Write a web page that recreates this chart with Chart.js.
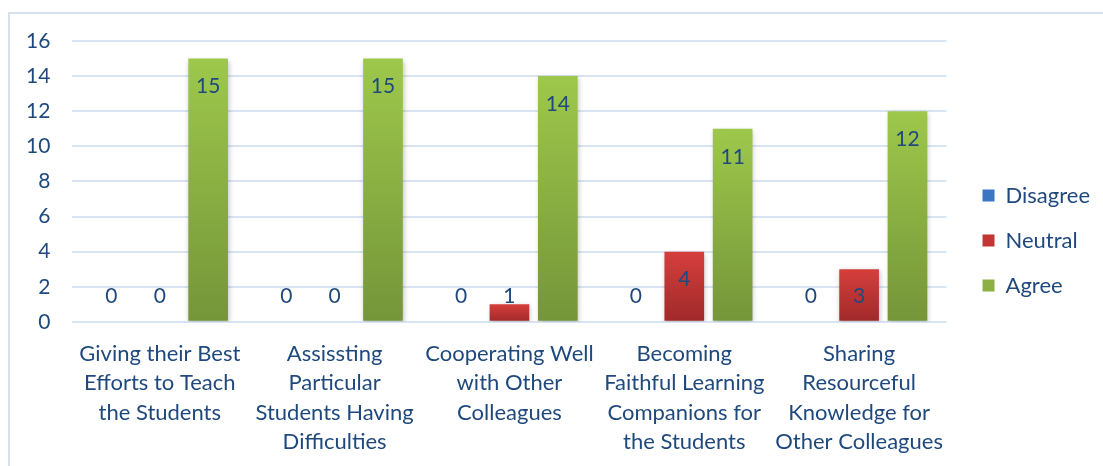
<!DOCTYPE html>
<html>
<head>
<meta charset="utf-8">
<script src="https://cdn.jsdelivr.net/npm/chart.js@4"></script>
<style>
  body { margin: 0; background: #fff; overflow: hidden; }
  #frame { position: absolute; left: 8px; top: 12px; width: 1200px; height: 600px; border-left: 2px solid #d6e1ef; border-top: 2px solid #d6e1ef; }
  #wrap { position: absolute; left: 0; top: 0; width: 1103px; height: 466px; }
</style>
</head>
<body>
<div id="frame"></div>
<div id="wrap"><canvas id="chart"></canvas></div>
<script>
// data
const categories = [
  ["Giving their Best", "Efforts to Teach", "the Students"],
  ["Assissting", "Particular", "Students Having", "Difficulties"],
  ["Cooperating Well", "with Other", "Colleagues"],
  ["Becoming", "Faithful Learning", "Companions for", "the Students"],
  ["Sharing", "Resourceful", "Knowledge for", "Other Colleagues"],
];
const disagree = [0, 0, 0, 0, 0];
const neutral = [0, 0, 1, 4, 3];
const agree = [15, 15, 14, 11, 12];
const yTicks = [0, 2, 4, 6, 8, 10, 12, 14, 16];

const textColor = "#1f497d";
const fontName = "Lato";

// gradient fill per bar, top colour -> bottom colour
function barFill(top, bottom) {
  return (c) => {
    const chart = c.chart;
    const ys = chart.scales && chart.scales.y;
    if (!chart.chartArea || !ys || c.raw === undefined) return top;
    const y0 = ys.getPixelForValue(c.raw);
    const y1 = ys.getPixelForValue(0);
    if (!isFinite(y0) || Math.abs(y1 - y0) < 1) return top;
    const g = chart.ctx.createLinearGradient(0, y0, 0, y1);
    g.addColorStop(0, top);
    g.addColorStop(1, bottom);
    return g;
  };
}

// soft shadow behind bars
const shadowPlugin = {
  id: "barShadow",
  beforeDatasetsDraw(chart) {
    const ctx = chart.ctx;
    ctx.save();
    ctx.shadowColor = "rgba(0,0,0,0.25)";
    ctx.shadowBlur = 5;
    ctx.shadowOffsetX = 1;
    ctx.shadowOffsetY = 2;
  },
  afterDatasetsDraw(chart) {
    chart.ctx.restore();
  },
};

// value labels like Excel "inside end"
const labelPlugin = {
  id: "valueLabels",
  afterDatasetsDraw(chart) {
    const ctx = chart.ctx;
    const base = chart.scales.y.getPixelForValue(0);
    ctx.save();
    ctx.font = "21px " + fontName;
    ctx.fillStyle = textColor;
    ctx.textAlign = "center";
    ctx.textBaseline = "middle";
    chart.data.datasets.forEach((ds, i) => {
      const meta = chart.getDatasetMeta(i);
      meta.data.forEach((bar, j) => {
        const y = Math.min(bar.y + 28, base - 26);
        ctx.fillText(String(ds.data[j]), bar.x, y);
      });
    });
    ctx.restore();
  },
};

// nudge the legend up a little (it sits a bit above the middle in the original)
const legendShift = {
  id: "legendShift",
  afterLayout(chart) {
    const l = chart.legend;
    if (!l) return;
    l.top -= 13;
    l.bottom -= 13;
  },
};

const ctx = document.getElementById("chart");

new Chart(ctx, {
  type: "bar",
  data: {
    labels: categories,
    datasets: [
      {
        label: "Disagree",
        data: disagree,
        backgroundColor: barFill("#3f7fcf", "#2b5c9c"),
      },
      {
        label: "Neutral",
        data: neutral,
        backgroundColor: barFill("#d53f3c", "#a0292a"),
      },
      {
        label: "Agree",
        data: agree,
        backgroundColor: barFill("#9dc84b", "#759539"),
      },
    ],
  },
  plugins: [shadowPlugin, labelPlugin, legendShift],
  options: {
    responsive: true,
    maintainAspectRatio: false,
    animation: false,
    categoryPercentage: 0.83,
    barPercentage: 0.82,
    layout: {
      padding: { top: 41, left: 4, right: 3, bottom: 0 },
    },
    plugins: {
      legend: {
        position: "right",
        labels: {
          color: textColor,
          font: { family: fontName, size: 22 },
          boxWidth: 12,
          boxHeight: 12,
          padding: 23,
          generateLabels(chart) {
            const fills = ["#3a76c4", "#c43633", "#8cb043"];
            return chart.data.datasets.map((ds, i) => ({
              text: ds.label,
              fillStyle: fills[i],
              strokeStyle: fills[i],
              lineWidth: 0,
              datasetIndex: i,
              fontColor: textColor,
            }));
          },
        },
      },
      tooltip: { enabled: false },
    },
    scales: {
      x: {
        grid: { display: false },
        border: { display: false },
        ticks: {
          color: textColor,
          font: { family: fontName, size: 22, lineHeight: 1.32 },
          padding: 10,
          maxRotation: 0,
          autoSkip: false,
        },
      },
      y: {
        min: 0,
        max: 16,
        afterBuildTicks(axis) {
          axis.ticks = yTicks.map((v) => ({ value: v }));
        },
        grid: { color: "#d9e4f2", lineWidth: 2, drawTicks: false },
        border: { display: false },
        ticks: {
          color: textColor,
          font: { family: fontName, size: 21 },
          padding: 22,
        },
      },
      // empty spacer between the plot and the legend
      gap: {
        position: "right",
        display: true,
        grid: { display: false },
        border: { display: false },
        ticks: { display: false },
        afterFit(axis) {
          axis.width = 13;
        },
      },
    },
  },
});
</script>
</body>
</html>
